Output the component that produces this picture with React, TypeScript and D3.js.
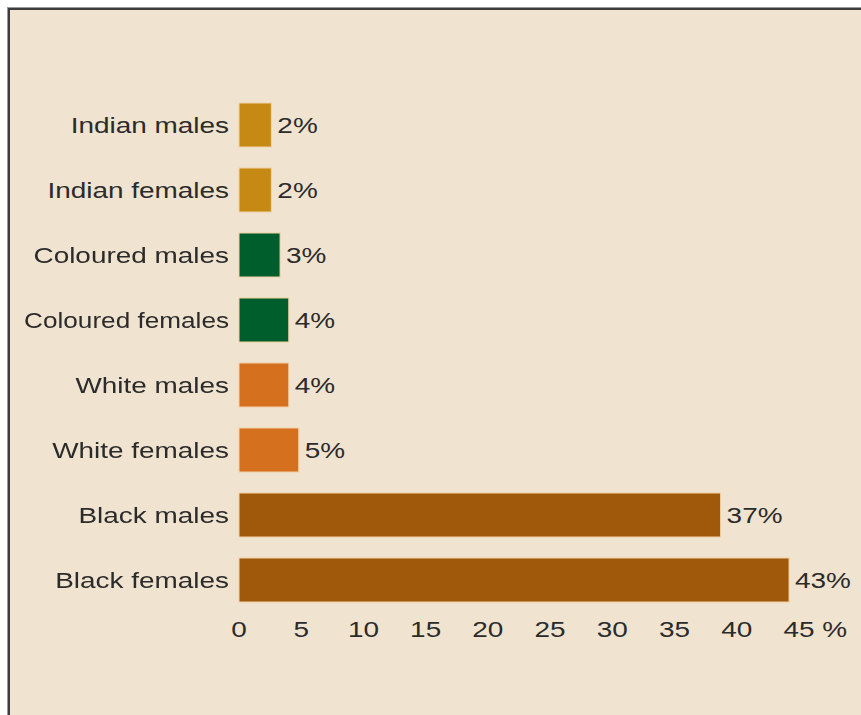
import React, { useEffect, useRef } from "react";
import * as d3 from "d3";

const categories = [
  "Indian males",
  "Indian females",
  "Coloured males",
  "Coloured females",
  "White males",
  "White females",
  "Black males",
  "Black females",
];
// bar lengths as drawn in the picture
const values = [2.6, 2.6, 3.3, 4.0, 4.0, 4.8, 38.7, 44.2];
// printed value labels
const valueLabels = ["2%", "2%", "3%", "4%", "4%", "5%", "37%", "43%"];
const groups = ["Indian", "Indian", "Coloured", "Coloured", "White", "White", "Black", "Black"];
const groupNames = ["Indian", "Coloured", "White", "Black"];
const groupColors = ["#C68A14", "#005E2C", "#D5701E", "#A0590A"];
const tickValues = [0, 5, 10, 15, 20, 25, 30, 35, 40, 45];
const unitLabel = "%";

const W = 861;
const H = 715;
const FONT = "'Liberation Sans', Arial, Helvetica, sans-serif";
const FS = 22;
const SX = 1.27;
const LABEL_RIGHT = 229;
const LABEL_MAX = 205;

export default function App() {
  const ref = useRef<SVGSVGElement | null>(null);

  useEffect(() => {
    const svg = d3.select(ref.current);
    svg.selectAll("*").remove();

    // background + frame
    svg.append("rect").attr("x", 0).attr("y", 0).attr("width", W).attr("height", H).attr("fill", "#ffffff");
    svg.append("rect").attr("x", 8).attr("y", 8).attr("width", W).attr("height", H).attr("fill", "#F0E3D0");
    svg.append("line").attr("x1", 7).attr("x2", W).attr("y1", 7.5).attr("y2", 7.5).attr("stroke", "#9a9a9a").attr("stroke-width", 1);
    svg.append("line").attr("x1", 7.5).attr("x2", 7.5).attr("y1", 7).attr("y2", H).attr("stroke", "#9a9a9a").attr("stroke-width", 1);
    svg.append("line").attr("x1", 8).attr("x2", W).attr("y1", 9).attr("y2", 9).attr("stroke", "#3c3c3c").attr("stroke-width", 2);
    svg.append("line").attr("x1", 9).attr("x2", 9).attr("y1", 8).attr("y2", H).attr("stroke", "#3c3c3c").attr("stroke-width", 2);

    const x = d3.scaleLinear().domain([0, 45]).range([239, 799]);
    const y = d3
      .scaleBand<string>()
      .domain(categories)
      .range([92.5, 612.5])
      .paddingInner(0.323)
      .paddingOuter(0.1615);
    const color = d3.scaleOrdinal<string, string>().domain(groupNames).range(groupColors);

    const data = categories.map((c, i) => ({ c, v: values[i], label: valueLabels[i], g: groups[i] }));

    // bars
    svg
      .append("g")
      .selectAll("rect")
      .data(data)
      .join("rect")
      .attr("x", x(0))
      .attr("y", (d) => y(d.c)!)
      .attr("width", (d) => x(d.v) - x(0))
      .attr("height", y.bandwidth())
      .attr("fill", (d) => color(d.g))
      .attr("stroke", "#F2D2A8")
      .attr("stroke-width", 1);

    const textColor = "#2b2b2b";

    // category labels
    const labG = svg.append("g");
    data.forEach((d) => {
      const cy = y(d.c)! + y.bandwidth() / 2 + 8;
      const t = labG
        .append("text")
        .attr("font-family", FONT)
        .attr("font-size", FS)
        .attr("fill", textColor)
        .attr("text-anchor", "end")
        .text(d.c);
      const len = (t.node() as SVGTextElement).getComputedTextLength();
      const sx = Math.min(SX, LABEL_MAX / len);
      t.attr("transform", `translate(${LABEL_RIGHT},${cy}) scale(${sx},1)`);
    });

    // value labels
    const valG = svg.append("g");
    data.forEach((d) => {
      const cy = y(d.c)! + y.bandwidth() / 2 + 8;
      valG
        .append("text")
        .attr("font-family", FONT)
        .attr("font-size", FS)
        .attr("fill", textColor)
        .attr("transform", `translate(${x(d.v) + 6},${cy}) scale(${SX},1)`)
        .text(d.label);
    });

    // axis tick labels
    const axG = svg.append("g");
    const base = 637;
    tickValues.forEach((v, i) => {
      const t = axG
        .append("text")
        .attr("font-family", FONT)
        .attr("font-size", FS)
        .attr("fill", textColor)
        .text(String(v));
      const len = (t.node() as SVGTextElement).getComputedTextLength();
      if (i === tickValues.length - 1) {
        t.text(`${v} ${unitLabel}`);
      }
      t.attr("transform", `translate(${x(v) - (len * SX) / 2},${base}) scale(${SX},1)`);
    });
  }, []);

  return (
    <svg
      ref={ref}
      width={W}
      height={H}
      style={{ position: "fixed", left: 0, top: 0, display: "block" }}
    />
  );
}
